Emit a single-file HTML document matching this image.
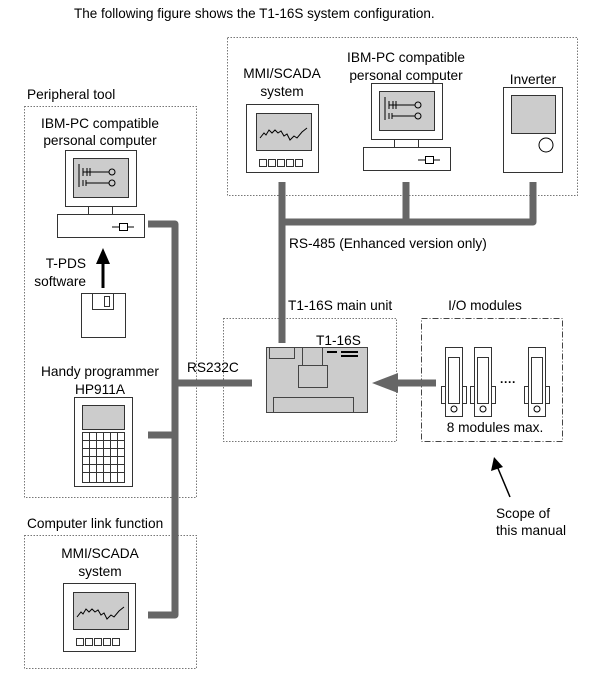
<!DOCTYPE html>
<html><head><meta charset="utf-8"><style>
html,body{margin:0;padding:0;background:#fff}
svg{display:block}
text{font-family:"Liberation Sans",Arial,sans-serif;font-size:13.7px;fill:#000}
</style></head><body>
<svg width="609" height="686" viewBox="0 0 609 686" xmlns="http://www.w3.org/2000/svg">
<text x="74" y="18" style="font-size:13.5px">The following figure shows the T1-16S system configuration.</text>

<g fill="none" stroke="#777" stroke-width="1" stroke-dasharray="1.5,1.5">
<rect x="227.5" y="37.5" width="350" height="158"/>
<rect x="24.5" y="106.5" width="172" height="391"/>
<rect x="24.5" y="535.5" width="172" height="133"/>
<rect x="223.5" y="318.5" width="173" height="123"/>
</g>
<rect x="421.5" y="318.5" width="141" height="123" fill="none" stroke="#444" stroke-dasharray="6,2,1,2"/>

<g stroke="#666" stroke-width="7" fill="none" stroke-linejoin="round">
<path d="M282 182 V343"/>
<path d="M282 222 H533 V182"/>
<path d="M406 182 V222"/>
<path d="M148 224 H175 V615 H148"/>
<path d="M148 435 H175"/>
<path d="M175 383 H252"/>
<path d="M436 383 H396"/>
</g>
<polygon points="372,383 398,373 398,393" fill="#666"/>

<text x="282" y="78" text-anchor="middle">MMI/SCADA</text>
<text x="282" y="96" text-anchor="middle">system</text>
<text x="406" y="62" text-anchor="middle">IBM-PC compatible</text>
<text x="406" y="80" text-anchor="middle">personal computer</text>
<text x="533" y="84" text-anchor="middle">Inverter</text>
<text x="289" y="248">RS-485 (Enhanced version only)</text>
<text x="288" y="310">T1-16S main unit</text>
<text x="485" y="310" text-anchor="middle">I/O modules</text>
<text x="187" y="372">RS232C</text>
<text x="27" y="99">Peripheral tool</text>
<text x="100" y="128" text-anchor="middle">IBM-PC compatible</text>
<text x="100" y="145" text-anchor="middle">personal computer</text>
<text x="86" y="268" text-anchor="end">T-PDS</text>
<text x="86" y="286" text-anchor="end">software</text>
<text x="100" y="376" text-anchor="middle">Handy programmer</text>
<text x="100" y="394" text-anchor="middle">HP911A</text>
<text x="27" y="528">Computer link function</text>
<text x="100" y="558" text-anchor="middle">MMI/SCADA</text>
<text x="100" y="576" text-anchor="middle">system</text>
<text x="496" y="518">Scope of</text>
<text x="496" y="535">this manual</text>
<text x="495" y="432" text-anchor="middle">8 modules max.</text>

<defs>
<g id="mmi">
<rect x="0.5" y="0.5" width="72" height="68" fill="#fff" stroke="#333"/>
<rect x="10.5" y="9.5" width="55" height="37" fill="#ccc" stroke="#333"/>
<polyline points="14,34 18,29 20,31 23,26 26,29 29,26 32,29 35,27 38,32 41,30 44,36 48,32 51,34 56,28 61,24" fill="none" stroke="#000"/>
<g fill="#fff" stroke="#333"><rect x="13.5" y="55.5" width="7" height="7"/><rect x="22.5" y="55.5" width="7" height="7"/><rect x="31.5" y="55.5" width="7" height="7"/><rect x="40.5" y="55.5" width="7" height="7"/><rect x="49.5" y="55.5" width="7" height="7"/></g>
</g>
<g id="pc">
<rect x="8.5" y="0.5" width="71" height="56" fill="#fff" stroke="#333"/>
<rect x="16.5" y="8.5" width="55" height="39" fill="#ccc" stroke="#333"/>
<g stroke="#000" fill="none"><path d="M22 14V37M26 18V26M30 18V26M33 18V26M26 22H52M26 30V36M29 30V36M29 33H52"/><circle cx="55" cy="22" r="3" fill="#ccc"/><circle cx="55" cy="33" r="3" fill="#ccc"/></g>
<rect x="31.5" y="56.5" width="24" height="8" fill="#fff" stroke="#333"/>
<rect x="0.5" y="64.5" width="87" height="23" fill="#fff" stroke="#333"/>
<path d="M55 77H77" stroke="#000"/><rect x="62.5" y="73.5" width="8" height="7" fill="#fff" stroke="#000"/>
</g>
<g id="mod">
<rect x="0.5" y="0.5" width="17" height="69" fill="#fff" stroke="#333"/>
<rect x="3.5" y="10.5" width="11" height="46" fill="#fff" stroke="#333"/>
<rect x="-3.5" y="39.5" width="4" height="17" fill="#fff" stroke="#333"/>
<rect x="17.5" y="39.5" width="4" height="17" fill="#fff" stroke="#333"/>
<circle cx="9" cy="62" r="3" fill="#fff" stroke="#000"/>
</g>
</defs>

<use href="#mmi" x="246" y="104"/>
<use href="#mmi" x="63" y="583"/>
<use href="#pc" x="363" y="83"/>
<use href="#pc" x="57" y="150"/>

<rect x="503.5" y="87.5" width="59" height="85" fill="#fff" stroke="#333"/>
<rect x="511.5" y="95.5" width="44" height="38" fill="#ccc" stroke="#333"/>
<circle cx="546" cy="145" r="7" fill="#fff" stroke="#000"/>

<path d="M103 288V262" stroke="#000" stroke-width="3"/>
<polygon points="103,248 96,264 110,264" fill="#000"/>
<rect x="81.5" y="293.5" width="44" height="44" fill="#fff" stroke="#333"/>
<rect x="92.5" y="293.5" width="21" height="16" fill="#fff" stroke="#333"/>
<rect x="104.5" y="296.5" width="5" height="10" fill="#fff" stroke="#333"/>

<rect x="74.5" y="397.5" width="58" height="89" fill="#fff" stroke="#333"/>
<rect x="82.5" y="405.5" width="42" height="24" fill="#ccc" stroke="#333"/>
<g stroke="#333" fill="none">
<rect x="82.5" y="432.5" width="42" height="50"/>
<path d="M89.5 432.5V482.5M96.5 432.5V482.5M103.5 432.5V482.5M110.5 432.5V482.5M117.5 432.5V482.5M82.5 440.5H124.5M82.5 448.5H124.5M82.5 456.5H124.5M82.5 464.5H124.5M82.5 472.5H124.5"/>
</g>

<text x="316" y="345">T1-16S</text>
<rect x="266.5" y="347.5" width="101" height="65" fill="#ccc" stroke="#444"/>
<g fill="none" stroke="#444">
<rect x="269.5" y="347.5" width="25" height="11"/>
<rect x="302.5" y="347.5" width="20" height="18"/>
<rect x="298.5" y="365.5" width="29" height="22"/>
<rect x="273.5" y="397.5" width="80" height="15"/>
</g>
<g fill="#000"><rect x="327" y="351" width="10" height="2"/><rect x="341" y="351" width="17" height="2"/><rect x="341" y="355" width="17" height="2"/></g>

<use href="#mod" x="445" y="347"/>
<use href="#mod" x="474" y="347"/>
<use href="#mod" x="528" y="347"/>
<text x="500" y="386" font-weight="bold" style="font-size:12px">····</text>

<path d="M510 497L497 466" stroke="#000" stroke-width="1.5"/>
<polygon points="494,457 491,471 503,467" fill="#000"/>
</svg>
</body></html>
